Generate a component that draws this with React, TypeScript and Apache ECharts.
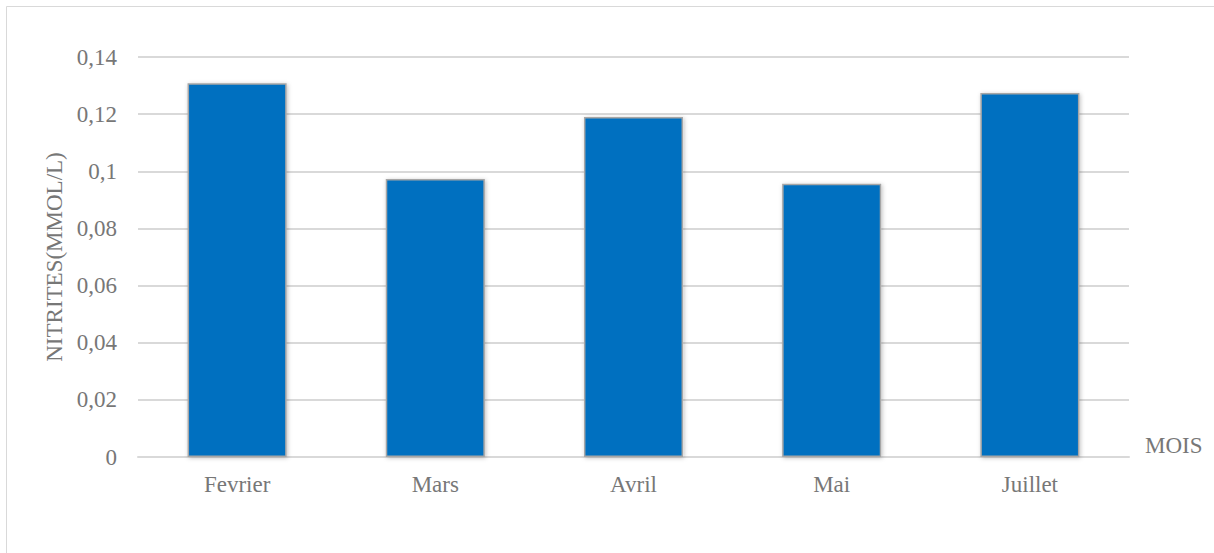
import React, { useEffect, useRef } from "react";
import * as echarts from "echarts";

const categories = ["Fevrier", "Mars", "Avril", "Mai", "Juillet"];
const nitrites = [0.1308, 0.0973, 0.119, 0.0956, 0.1274];
const yTickLabels = ["0", "0,02", "0,04", "0,06", "0,08", "0,1", "0,12", "0,14"];
const yAxisTitle = "NITRITES(MMOL/L)";
const xAxisTitle = "MOIS";

const FONT = '"Liberation Serif", "Times New Roman", serif';
const TXT = "#777777";
const FS = 23;

export default function App() {
  const ref = useRef<HTMLDivElement>(null);
  useEffect(() => {
    if (!ref.current) return;
    const chart = echarts.init(ref.current, undefined, { renderer: "svg" });
    chart.setOption({
      animation: false,
      backgroundColor: "#ffffff",
      graphic: [
        {
          type: "rect",
          shape: { x: 6.5, y: 6.5, width: 1230, height: 560 },
          style: { fill: "none", stroke: "#d9d9d9", lineWidth: 1 },
          silent: true,
        },
      ],
      grid: { left: 138, right: 85, top: 57, bottom: 96, containLabel: false },
      xAxis: {
        type: "category",
        data: categories,
        name: xAxisTitle,
        nameLocation: "end",
        nameGap: 16,
        nameTextStyle: { fontFamily: FONT, fontSize: FS, color: TXT, align: "left", verticalAlign: "bottom" },
        axisTick: { show: false },
        axisLine: { lineStyle: { color: "#d9d9d9", width: 2 } },
        axisLabel: { fontFamily: FONT, fontSize: FS, color: TXT, margin: 16 },
      },
      yAxis: {
        type: "value",
        min: 0,
        max: 0.14,
        interval: 0.02,
        name: yAxisTitle,
        nameLocation: "middle",
        nameGap: 72,
        nameRotate: 90,
        nameTextStyle: { fontFamily: FONT, fontSize: FS, color: TXT },
        axisLine: { show: false },
        axisTick: { show: false },
        splitLine: { lineStyle: { color: "#d9d9d9", width: 2 } },
        axisLabel: {
          fontFamily: FONT,
          fontSize: FS,
          color: TXT,
          margin: 21,
          formatter: (v: number) => yTickLabels[Math.round(v / 0.02)] ?? String(v),
        },
      },
      series: [
        {
          type: "bar",
          data: nitrites,
          barCategoryGap: "50%",
          itemStyle: {
            color: "#0070c0",
            borderColor: "#a6a6a6",
            borderWidth: 1.5,
            shadowBlur: 4,
            shadowColor: "rgba(0,0,0,0.25)",
            shadowOffsetX: 1,
            shadowOffsetY: 1,
          },
        },
      ],
    });
    return () => chart.dispose();
  }, []);
  return (
    <div
      ref={ref}
      style={{ position: "fixed", left: 0, top: 0, width: 1214, height: 553 }}
    />
  );
}
